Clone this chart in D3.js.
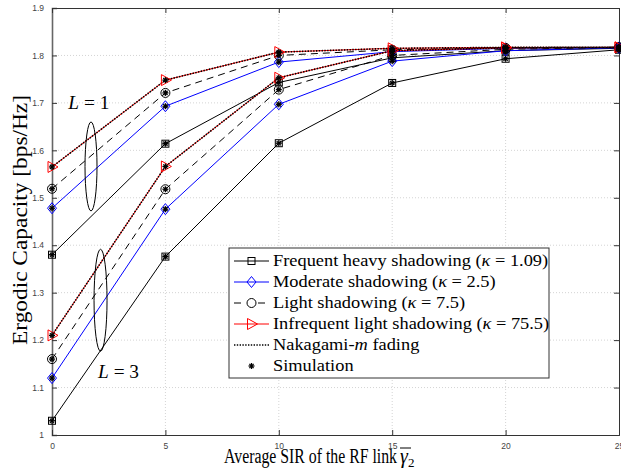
<!DOCTYPE html>
<html>
<head>
<meta charset="utf-8">
<script src="https://cdn.jsdelivr.net/npm/d3@7"></script>
<style>
  body { margin: 0; background: #fff; }
  svg { display: block; }
</style>
</head>
<body>
<div id="chart"></div>
<script>
// x values (average SIR of the RF link)
var sir = [0, 5, 10, 15, 20, 25];
var xTicks = [0, 5, 10, 15, 20, 25];
var yTicks = [1, 1.1, 1.2, 1.3, 1.4, 1.5, 1.6, 1.7, 1.8, 1.9];

// L = 1 curves
var heavyL1 = [1.380, 1.614, 1.743, 1.795, 1.810, 1.815];
var moderateL1 = [1.478, 1.693, 1.786, 1.808, 1.815, 1.817];
var lightL1 = [1.519, 1.721, 1.800, 1.812, 1.816, 1.817];
var infrequentL1 = [1.565, 1.748, 1.807, 1.815, 1.817, 1.817];

// L = 3 curves
var heavyL3 = [1.030, 1.376, 1.615, 1.742, 1.793, 1.812];
var moderateL3 = [1.120, 1.476, 1.697, 1.788, 1.810, 1.816];
var lightL3 = [1.160, 1.518, 1.728, 1.800, 1.813, 1.817];
var infrequentL3 = [1.210, 1.566, 1.753, 1.810, 1.816, 1.817];

var legendLabels = [
  "Frequent heavy shadowing (\u03BA = 1.09)",
  "Moderate shadowing (\u03BA = 2.5)",
  "Light shadowing (\u03BA = 7.5)",
  "Infrequent light shadowing (\u03BA = 75.5)",
  "Nakagami-m fading",
  "Simulation"
];

var W = 621, H = 473;
var margin = {top: 8, right: 2, bottom: 38, left: 52};
var width = W - margin.left - margin.right,
    height = H - margin.top - margin.bottom;

var svg = d3.select("#chart").append("svg")
    .attr("width", W)
    .attr("height", H);

var g = svg.append("g")
    .attr("transform", "translate(" + margin.left + "," + margin.top + ")");

var x = d3.scaleLinear().domain([0, 25]).range([0, width]);
var y = d3.scaleLinear().domain([1, 1.9]).range([height, 0]);

// grid
g.append("g").selectAll("line").data(xTicks.slice(1, -1)).enter().append("line")
    .attr("x1", function(d) { return x(d); }).attr("x2", function(d) { return x(d); })
    .attr("y1", 0).attr("y2", height)
    .attr("stroke", "#d4d4d4").attr("stroke-width", 1).attr("stroke-dasharray", "1,2");
g.append("g").selectAll("line").data(yTicks.slice(1, -1)).enter().append("line")
    .attr("y1", function(d) { return y(d); }).attr("y2", function(d) { return y(d); })
    .attr("x1", 0).attr("x2", width)
    .attr("stroke", "#d4d4d4").attr("stroke-width", 1).attr("stroke-dasharray", "1,2");

// axes (MATLAB style, ticks inside)
var fmtY = function(d) { return d === 1 ? "1" : d3.format(".1f")(d); };
var axL = g.append("g").call(d3.axisLeft(y).tickValues(yTicks).tickSize(-5).tickPadding(8).tickFormat(fmtY));
var axB = g.append("g").attr("transform", "translate(0," + height + ")")
    .call(d3.axisBottom(x).tickValues(xTicks).tickSize(-5).tickPadding(8));
var axT = g.append("g").call(d3.axisTop(x).tickValues(xTicks).tickSize(-5).tickFormat(""));
var axR = g.append("g").attr("transform", "translate(" + width + ",0)")
    .call(d3.axisRight(y).tickValues(yTicks).tickSize(-5).tickFormat(""));
[axL, axB, axT, axR].forEach(function(a) {
  a.selectAll("path").attr("stroke", "#333");
  a.selectAll("line").attr("stroke", "#333");
  a.selectAll("text").attr("fill", "#444")
    .style("font-family", "Liberation Sans, Arial, sans-serif").style("font-size", "8.5px");
});
axL.select("path").attr("stroke", "#666").attr("stroke-width", 1.6);

// series
var series = [
  {vals: heavyL1, color: "#000", dash: null, marker: "square"},
  {vals: moderateL1, color: "#0000ff", dash: null, marker: "diamond"},
  {vals: lightL1, color: "#000", dash: "7,5", marker: "circle"},
  {vals: infrequentL1, color: "#ff0000", dash: null, marker: "triangle"},
  {vals: heavyL3, color: "#000", dash: null, marker: "square"},
  {vals: moderateL3, color: "#0000ff", dash: null, marker: "diamond"},
  {vals: lightL3, color: "#000", dash: "7,5", marker: "circle"},
  {vals: infrequentL3, color: "#ff0000", dash: null, marker: "triangle"}
];

var line = d3.line()
    .x(function(d, i) { return x(sir[i]); })
    .y(function(d) { return y(d); });

function drawMarker(sel, type, color, cx, cy) {
  if (type === "square") {
    sel.append("rect").attr("x", cx - 3.5).attr("y", cy - 3.5).attr("width", 7).attr("height", 7)
      .attr("fill", "none").attr("stroke", color).attr("stroke-width", 1);
  } else if (type === "diamond") {
    sel.append("path").attr("d", "M" + cx + "," + (cy - 5.5) + "L" + (cx + 4.5) + "," + cy + "L" + cx + "," + (cy + 5.5) + "L" + (cx - 4.5) + "," + cy + "Z")
      .attr("fill", "none").attr("stroke", color).attr("stroke-width", 1);
  } else if (type === "circle") {
    sel.append("circle").attr("cx", cx).attr("cy", cy).attr("r", 4.5)
      .attr("fill", "none").attr("stroke", color).attr("stroke-width", 1);
  } else if (type === "triangle") {
    sel.append("path").attr("d", "M" + (cx - 4) + "," + (cy - 5.5) + "L" + (cx + 6) + "," + cy + "L" + (cx - 4) + "," + (cy + 5.5) + "Z")
      .attr("fill", "none").attr("stroke", color).attr("stroke-width", 1);
  } else if (type === "star") {
    var s = 3;
    for (var k = 0; k < 4; k++) {
      var a = k * Math.PI / 4;
      sel.append("line")
        .attr("x1", cx - s * Math.cos(a)).attr("y1", cy - s * Math.sin(a))
        .attr("x2", cx + s * Math.cos(a)).attr("y2", cy + s * Math.sin(a))
        .attr("stroke", color).attr("stroke-width", 1.3);
    }
  }
}

var lines = g.append("g");
series.forEach(function(s) {
  lines.append("path").datum(s.vals)
    .attr("d", line)
    .attr("fill", "none")
    .attr("stroke", s.color)
    .attr("stroke-width", 1)
    .attr("stroke-dasharray", s.dash);
});
// Nakagami-m (dotted, same values as infrequent light shadowing)
[infrequentL1, infrequentL3].forEach(function(v) {
  lines.append("path").datum(v)
    .attr("d", line)
    .attr("fill", "none")
    .attr("stroke", "#000")
    .attr("stroke-width", 1.6)
    .attr("stroke-dasharray", "1.4,1.4");
});

var marks = g.append("g");
series.forEach(function(s) {
  s.vals.forEach(function(v, i) {
    drawMarker(marks, s.marker, s.color, x(sir[i]), y(v));
  });
});
series.forEach(function(s) {
  s.vals.forEach(function(v, i) {
    drawMarker(marks, "star", "#000", x(sir[i]), y(v));
  });
});

// ellipses and L labels
g.append("ellipse").attr("cx", x(1.72)).attr("cy", y(1.566)).attr("rx", 6).attr("ry", 44.5)
  .attr("fill", "none").attr("stroke", "#000").attr("stroke-width", 1);
g.append("ellipse").attr("cx", x(2.14)).attr("cy", y(1.284)).attr("rx", 6.5).attr("ry", 51)
  .attr("fill", "none").attr("stroke", "#000").attr("stroke-width", 1);

var serif = "Liberation Serif, Times New Roman, serif";
function lLabel(px, py, n) {
  var t = g.append("text").attr("x", px).attr("y", py)
    .attr("textLength", 41).attr("lengthAdjust", "spacingAndGlyphs")
    .style("font-family", serif).style("font-size", "19px");
  t.append("tspan").style("font-style", "italic").text("L");
  t.append("tspan").text(" = " + n);
}
lLabel(x(0.72), y(1.688), "1");
lLabel(x(2.03), y(1.121), "3");

// legend
var lg = svg.append("g").attr("transform", "translate(229,248)");
lg.append("rect").attr("x", 0).attr("y", 0).attr("width", 320).attr("height", 130)
  .attr("fill", "#fff").attr("stroke", "#333").attr("stroke-width", 1);
var legendStyle = [
  {color: "#000", dash: null, marker: "square"},
  {color: "#0000ff", dash: null, marker: "diamond"},
  {color: "#000", dash: "7,5", marker: "circle"},
  {color: "#ff0000", dash: null, marker: "triangle"},
  {color: "#000", dash: "1.4,1.4", marker: null, width: 1.6},
  {color: null, dash: null, marker: "star"}
];
legendLabels.forEach(function(lab, i) {
  var yy = 13 + i * 21;
  var st = legendStyle[i];
  if (st.color) {
    lg.append("line").attr("x1", 5).attr("x2", 40).attr("y1", yy).attr("y2", yy)
      .attr("stroke", st.color).attr("stroke-width", st.width || 1)
      .attr("stroke-dasharray", st.dash);
  }
  if (st.marker) {
    if (st.marker === "circle") {
      lg.append("rect").attr("x", 16).attr("y", yy - 6).attr("width", 13).attr("height", 12).attr("fill", "#fff");
    }
    drawMarker(lg, st.marker, st.marker === "star" ? "#000" : st.color, 22.5, yy);
  }
  var t = lg.append("text").attr("x", 44).attr("y", yy + 5)
    .style("font-family", serif).style("font-size", "17px").attr("fill", "#000");
  if (i === 4) {
    t.append("tspan").text("Nakagami-");
    t.append("tspan").style("font-style", "italic").text("m");
    t.append("tspan").text(" fading");
  } else {
    var k = lab.indexOf("\u03BA");
    if (k >= 0) {
      t.append("tspan").text(lab.slice(0, k));
      t.append("tspan").style("font-style", "italic").text("\u03BA");
      t.append("tspan").text(lab.slice(k + 1));
    } else {
      t.text(lab);
    }
  }
  // Computer Modern runs wider than Times: stretch horizontally
  var w0 = t.node().getComputedTextLength();
  t.attr("textLength", w0 * 1.08).attr("lengthAdjust", "spacingAndGlyphs");
});

// axis labels
svg.append("text")
  .attr("transform", "translate(27," + (margin.top + 212) + ") rotate(-90)")
  .attr("text-anchor", "middle")
  .attr("textLength", 250).attr("lengthAdjust", "spacingAndGlyphs")
  .style("font-family", serif).style("font-size", "20px")
  .text("Ergodic Capacity [bps/Hz]");

svg.append("text").attr("x", 224).attr("y", 463)
  .attr("textLength", 173).attr("lengthAdjust", "spacingAndGlyphs")
  .style("font-family", serif).style("font-size", "20px")
  .text("Average SIR of the RF link");
var gm = svg.append("text").attr("x", 400).attr("y", 463)
  .style("font-family", serif).style("font-size", "20px");
gm.append("tspan").style("font-style", "italic").text("\u03B3");
gm.append("tspan").attr("dy", 4).style("font-size", "13px").text("2");
svg.append("line").attr("x1", 400).attr("x2", 411)
  .attr("y1", 448).attr("y2", 448).attr("stroke", "#000").attr("stroke-width", 1);
</script>
</body>
</html>
